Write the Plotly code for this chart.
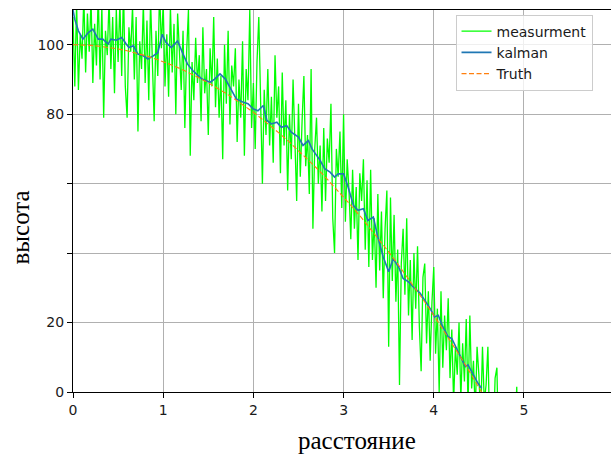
import plotly.graph_objects as go

# Noisy altitude measurements, sampled every MEAS_DX along the distance axis
MEAS_X0 = 0.0
MEAS_DX = 0.02
measurement = [
    108, 88, 112, 87, 103,
    96, 114, 92, 109, 98,
    113, 89, 106, 94, 115,
    90, 111, 79, 104, 97,
    113, 93, 108, 86, 110,
    95, 112, 91, 116, 88,
    79, 105, 98, 111, 90,
    108, 75, 101, 93, 112,
    89, 107, 84, 113, 95,
    78, 104, 91, 116, 99,
    112, 88, 103, 85, 111,
    92, 106, 80, 109, 96,
    87, 104, 76, 98, 110,
    68, 95, 84, 102, 89,
    97, 78, 105, 86, 93,
    74, 99, 88, 108, 82,
    96, 79, 91, 67, 100,
    83, 104, 77, 94, 88,
    99, 72, 90, 79, 101,
    68, 93, 84, 110, 76,
    89, 70, 95, 108, 81,
    60, 87, 74, 93, 71,
    85, 66, 97, 79, 88,
    63, 92, 71, 84, 58,
    80, 67, 90, 73, 55,
    83, 62, 78, 91, 65,
    74, 57, 93, 47, 70,
    79, 60, 71, 52, 76,
    55, 73, 66, 83, 50,
    40, 70, 62, 75, 53,
    80, 49, 67, 58, 44,
    64, 47, 59, 38, 63,
    55, 67, 41, 61, 36,
    64, 38, 50, 30, 57,
    35, 52, 27, 47, 58,
    13, 56, 32, 51, 26,
    41, 2, 37, 47, 28,
    50, 22, 38, 15, 40,
    24, 42, 19, 6, 33,
    37, 14, 29, 9, 26,
    36, 11, 24, 0, 29,
    7, 22, 12, 27, 4,
    18, -3, 13, 5, 20,
    -2, 14, 3, 21, -4,
    22, 1, 9, -6, 13,
    5, -8, 13, -3, 2,
    13, -11, -2, -14, 4,
    7, -19, -5, -22, -9,
    -25, -8, -20, -3, -28,
    -11, 1.5, -24,
]

# Kalman filter estimate
kalman_x = [
    0.0, 0.02, 0.06, 0.11, 0.17, 0.22, 0.28, 0.33, 0.39, 0.42,
    0.48, 0.54, 0.59, 0.62, 0.67, 0.72, 0.78, 0.83, 0.89, 0.94,
    0.99, 1.03, 1.09, 1.16, 1.22, 1.27, 1.33, 1.39, 1.43, 1.52,
    1.57, 1.63, 1.69, 1.76, 1.81, 1.89, 1.94, 2.0, 2.05, 2.11,
    2.15, 2.2, 2.26, 2.31, 2.37, 2.42, 2.5, 2.55, 2.61, 2.65,
    2.74, 2.79, 2.85, 2.9, 2.94, 3.0, 3.05, 3.11, 3.16, 3.22,
    3.27, 3.33, 3.38, 3.44, 3.5, 3.55, 3.61, 3.66, 3.72, 3.77,
    3.85, 3.9, 3.96, 4.01, 4.05, 4.1, 4.16, 4.2, 4.25, 4.31,
    4.35, 4.38, 4.44, 4.49, 4.53,
]
kalman_y = [
    110.0, 107.3, 104.0, 101.6, 103.5, 104.5, 101.6, 101.6, 100.2, 101.6,
    101.3, 102.1, 100.2, 99.2, 99.7, 97.3, 96.8, 95.9, 96.8, 97.7,
    103.0, 100.7, 99.2, 101.1, 97.3, 94.4, 92.5, 91.1, 90.1, 89.2,
    90.1, 91.6, 90.1, 86.8, 84.4, 83.4, 83.0, 81.5, 81.0, 82.5,
    78.2, 77.2, 77.7, 76.2, 76.7, 74.8, 73.4, 71.0, 72.4, 70.0,
    66.7, 64.3, 63.3, 61.9, 62.8, 62.8, 59.0, 53.7, 52.3, 52.8,
    49.4, 50.4, 44.6, 38.9, 34.6, 38.4, 36.0, 32.7, 31.7, 30.3,
    28.4, 26.4, 24.0, 21.6, 22.1, 18.8, 15.9, 15.4, 12.6, 9.2,
    7.3, 7.8, 4.9, 2.5, 1.1,
]

# True trajectory, sampled every TRUTH_DX
TRUTH_X0 = 0.0
TRUTH_DX = 0.1
truth = [
    100.0, 99.95, 99.8, 99.56, 99.22, 98.78, 98.25, 97.61, 96.88, 96.06,
    95.13, 94.11, 92.99, 91.77, 90.45, 89.04, 87.53, 85.93, 84.22, 82.42,
    80.52, 78.52, 76.43, 74.24, 71.95, 69.56, 67.08, 64.50, 61.82, 59.04,
    56.17, 53.20, 50.13, 46.97, 43.70, 40.34, 36.88, 33.33, 29.68, 25.93,
    22.08, 18.14, 14.09, 9.95, 5.72, 1.38, -3.08,
]

x_ticks = [0, 1, 2, 3, 4, 5]
y_ticks = [0, 20, 40, 60, 80, 100]
y_tick_text = ["0", "20", "", "", "80", "100"]

TICK_FONT = dict(family="DejaVu Sans", size=14, color="#1a1a1a")
LABEL_FONT = dict(family="Liberation Serif", size=25, color="#000000")
GRID = "#b0b0b0"

fig = go.Figure()
fig.add_trace(go.Scatter(
    x0=MEAS_X0, dx=MEAS_DX, y=measurement, mode="lines", name="measurment",
    line=dict(color="#00ff00", width=1.3),
))
fig.add_trace(go.Scatter(
    x=kalman_x, y=kalman_y, mode="lines", name="kalman",
    line=dict(color="#1f77b4", width=1.6),
))
fig.add_trace(go.Scatter(
    x0=TRUTH_X0, dx=TRUTH_DX, y=truth, mode="lines", name="Truth",
    line=dict(color="#ff7f0e", width=1.1, dash="5px,2.5px"),
))

fig.update_layout(
    width=611, height=458,
    margin=dict(l=73, r=0, t=10, b=66),
    paper_bgcolor="white", plot_bgcolor="white",
    showlegend=True,
    legend=dict(
        x=0.711, y=0.988, xanchor="left", yanchor="top",
        bgcolor="rgba(255,255,255,0.8)", bordercolor="#cccccc", borderwidth=1,
        font=dict(family="DejaVu Sans", size=14, color="#1a1a1a"),
        itemwidth=30, entrywidth=119, entrywidthmode="pixels",
    ),
    xaxis=dict(
        range=[0, 5.965], tickvals=x_ticks, ticks="outside", ticklen=5,
        tickcolor="black", showline=True, linecolor="black", linewidth=1,
        mirror=True, showgrid=True, gridcolor=GRID, gridwidth=1,
        zeroline=False, tickfont=TICK_FONT,
    ),
    yaxis=dict(
        range=[0, 110], tickvals=y_ticks, ticktext=y_tick_text,
        ticks="outside", ticklen=5, tickcolor="black", showline=True,
        linecolor="black", linewidth=1, showgrid=True, gridcolor=GRID,
        gridwidth=1, zeroline=False, tickfont=TICK_FONT,
    ),
    annotations=[
        dict(text="расстояние", xref="paper", yref="paper", x=0.528, y=-0.128,
             xanchor="center", yanchor="middle", showarrow=False, font=LABEL_FONT),
        dict(text="высота", xref="paper", yref="paper", x=-0.097, y=0.43,
             xanchor="center", yanchor="middle", textangle=-90,
             showarrow=False, font=LABEL_FONT),
    ],
)

fig.write_html("out.html")
